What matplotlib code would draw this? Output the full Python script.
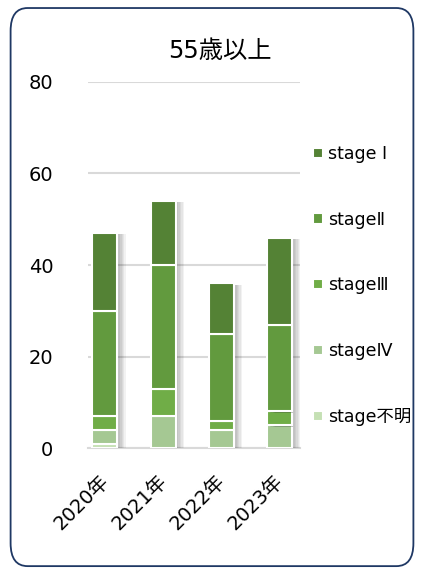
import matplotlib
matplotlib.use("Agg")
import matplotlib.pyplot as plt
import matplotlib.patheffects as pe
import matplotlib.transforms as mtransforms
from matplotlib.patches import FancyBboxPatch
import numpy as np

plt.rcParams['font.family'] = ['DejaVu Sans', 'Noto Sans CJK JP']

years = ["2020年", "2021年", "2022年", "2023年"]
stages = ["stage不明", "stageⅣ", "stageⅢ", "stageⅡ", "stage Ⅰ"]
unknown = [1, 0, 0, 0]
stage4 = [3, 7, 4, 5]
stage3 = [3, 6, 2, 3]
stage2 = [23, 27, 19, 19]
stage1 = [17, 14, 11, 19]
colors = ["#C5E0B4", "#A5C893", "#70AD47", "#629A3E", "#548235"]

fig = plt.figure(figsize=(4.24, 5.73), dpi=100)
ax = fig.add_axes([0.2075, 0.218, 0.5, 0.639])

# rounded frame around the whole chart
frame = FancyBboxPatch((0.025, 0.012), 0.95, 0.974, boxstyle="round,pad=0,rounding_size=0.04",
                       transform=fig.transFigure, fill=False, edgecolor="#1F3864", linewidth=1.3)
fig.patches.append(frame)

x = np.arange(len(years))
bottom = np.zeros(len(years))
handles = []
# soft shadow to the right, faked with a few faint offset copies
shadow = [pe.SimplePatchShadow(offset=(d, -1), alpha=0.05, shadow_rgbFace="black") for d in (6, 5, 4, 3, 2)]
shadow.append(pe.Normal())
for vals, lab, col in zip([unknown, stage4, stage3, stage2, stage1], stages, colors):
    b = ax.bar(x, vals, 0.43, bottom=bottom, color=col, edgecolor="white", linewidth=1.5,
               label=lab, zorder=3)
    for p in b:
        p.set_path_effects(shadow)
    handles.append(b)
    bottom += np.array(vals)

ax.set_ylim(0, 80)
ax.set_xlim(-0.29, 3.35)
ax.set_yticks([0, 20, 40, 60, 80])
ax.grid(axis="y", color="#d9d9d9", linewidth=1.5, zorder=0)
ax.set_axisbelow(True)
for s in ["top", "right", "left"]:
    ax.spines[s].set_visible(False)
ax.spines["bottom"].set_color("#d9d9d9")
ax.spines["bottom"].set_linewidth(1.5)
ax.tick_params(length=0, labelsize=14)
ax.tick_params(axis="y", pad=25)
ax.tick_params(axis="x", pad=14)
ax.set_xticks(x)
ax.set_xticklabels(years, rotation=45, ha="right", rotation_mode="anchor", fontsize=14)
shift = mtransforms.ScaledTranslation(-6 / 100, -4 / 100, fig.dpi_scale_trans)
for lab in ax.get_xticklabels():
    lab.set_transform(lab.get_transform() + shift)

fig.text(0.519, 0.911, "55歳以上", ha="center", va="center", fontsize=17.5)

leg = ax.legend(handles[::-1], stages[::-1], loc="upper left", bbox_to_anchor=(1.03, 0.847),
                frameon=False, fontsize=12.5, handlelength=0.55, handleheight=0.55,
                handletextpad=0.3, labelspacing=2.75, borderaxespad=0)
for h in leg.legend_handles:
    h.set_path_effects([])

fig.savefig("out.png", dpi=100)
